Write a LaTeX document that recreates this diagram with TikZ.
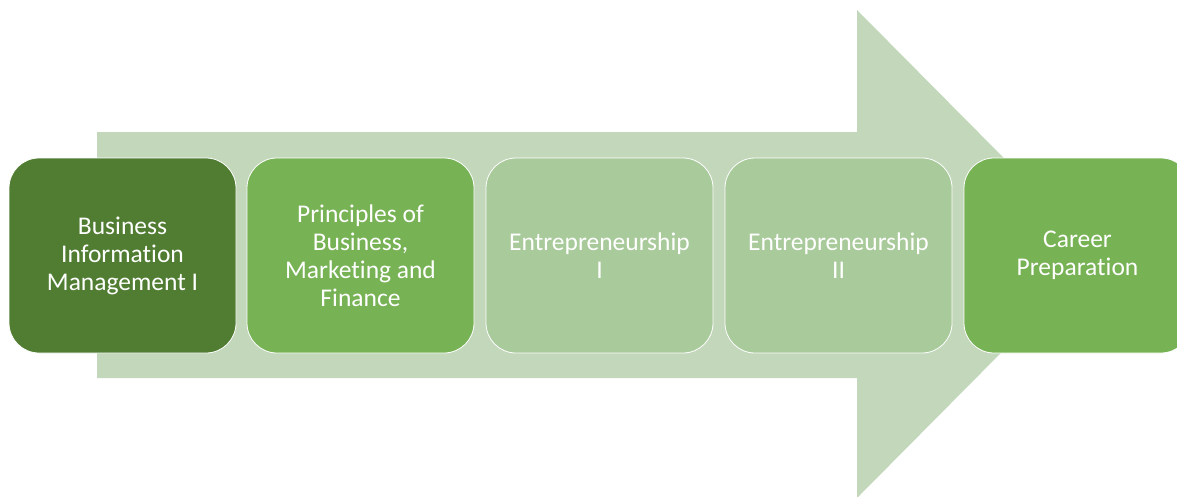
\documentclass[tikz,border=0pt]{standalone}
\usepackage{fontspec}
\setmainfont{Carlito}[Ligatures=NoCommon]
\definecolor{arrowc}{HTML}{C3D8BB}
\definecolor{cdark}{HTML}{507D32}
\definecolor{cmid}{HTML}{77B255}
\definecolor{clight}{HTML}{A9CA9B}
\begin{document}
\begin{tikzpicture}[x=1pt,y=-1pt,
  stagebox/.style={draw=white, line width=0.8pt, rounded corners=30pt,
    minimum width=227pt, minimum height=195pt, text=white, align=center,
    font=\fontsize{25.5}{28}\selectfont, inner sep=0pt}]
\useasboundingbox (0,0) rectangle (1177,496);
\clip (0,0) rectangle (1177,496);
\fill[white] (0,0) rectangle (1177,496);
\fill[arrowc] (97,132) -- (857,132) -- (857,10) -- (1099,254) -- (857,498) -- (857,378) -- (97,378) -- cycle;
\node[stagebox, fill=cdark] (b1) at (122.5,255.5) {Business\\Information\\Management I};
\node[stagebox, fill=cmid] (b2) at (360.5,255.5) {Principles of\\Business,\\Marketing and\\Finance};
\node[stagebox, fill=clight] (b3) at (599.5,255.5) {Entrepreneurship\\I};
\node[stagebox, fill=clight] (b4) at (838.5,255.5) {Entrepreneurship\\II};
\node[stagebox, fill=cmid] (b5) at (1077.5,255.5) {Career\\Preparation};
\end{tikzpicture}
\end{document}
